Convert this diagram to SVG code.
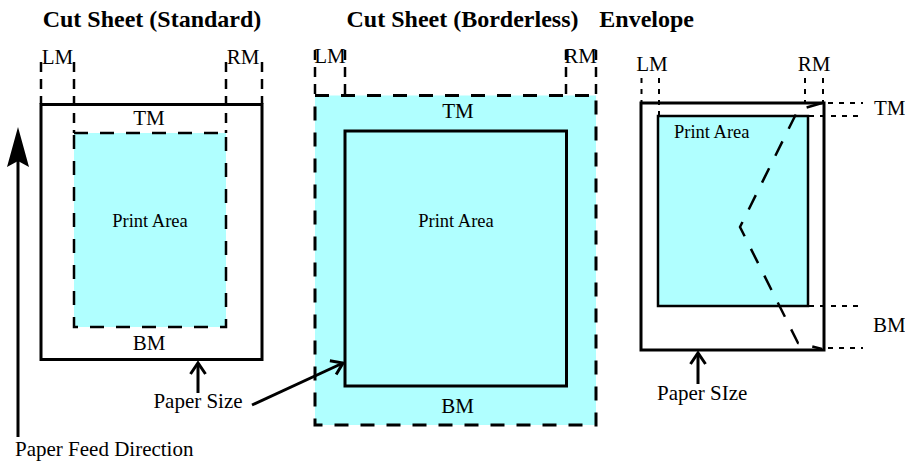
<svg xmlns="http://www.w3.org/2000/svg" width="905" height="462" viewBox="0 0 905 462">
<defs>
<style>
text{font-family:'Liberation Serif','Times New Roman','DejaVu Serif',serif;fill:#000}
.title{font-size:24px;font-weight:bold;text-anchor:middle}
.lbl{font-size:21px}
.mid{text-anchor:middle}
.pa{font-size:18.5px}
.solid{fill:none;stroke:#000;stroke-width:3}
.guide{fill:none;stroke:#000;stroke-width:2.5;stroke-dasharray:10 7}
.dot{fill:none;stroke:#000;stroke-width:2;stroke-dasharray:5 6}
.cyan{fill:#b0ffff}
.conn{fill:none;stroke:#000;stroke-width:3}
</style>
<marker id="open" markerUnits="userSpaceOnUse" viewBox="-14 -10 16 20" markerWidth="16" markerHeight="20" refX="0" refY="0" orient="auto" overflow="visible">
<path d="M-11,-7.5 L0,0 L-11,7.5" fill="none" stroke="#000" stroke-width="3"/>
</marker>
</defs>

<g id="standard">
<text class="title" x="152" y="27">Cut Sheet (Standard)</text>
<text class="lbl mid" x="57.5" y="64">LM</text>
<text class="lbl mid" x="243" y="64">RM</text>
<line class="guide" x1="41" y1="62" x2="41" y2="104"/>
<line class="guide" x1="74" y1="62" x2="74" y2="133"/>
<line class="guide" x1="226" y1="62" x2="226" y2="133"/>
<line class="guide" x1="262" y1="62" x2="262" y2="104"/>
<rect class="solid" x="41" y="104.5" width="221" height="255"/>
<rect class="cyan" x="74" y="133" width="152" height="194" stroke="#000" stroke-width="2.5" stroke-dasharray="14 12"/>
<text class="lbl mid" x="149" y="125">TM</text>
<text class="pa mid" x="150" y="226.5">Print Area</text>
<text class="lbl mid" x="149" y="350">BM</text>
<text class="lbl mid" x="198" y="408">Paper Size</text>
</g>

<g id="borderless">
<text class="title" x="462.5" y="27">Cut Sheet (Borderless)</text>
<text class="lbl mid" x="330" y="63">LM</text>
<text class="lbl mid" x="580.5" y="63">RM</text>
<line class="guide" x1="315" y1="50" x2="315" y2="95"/>
<line class="guide" x1="345" y1="50" x2="345" y2="131"/>
<line class="guide" x1="566" y1="50" x2="566" y2="131"/>
<line class="guide" x1="596" y1="50" x2="596" y2="95"/>
<rect class="cyan" x="315" y="95.5" width="281" height="329.5" stroke="#000" stroke-width="3" stroke-dasharray="14 12"/>
<rect class="solid" x="345" y="131" width="221.5" height="255"/>
<text class="lbl mid" x="458" y="118">TM</text>
<text class="pa mid" x="456" y="226.5">Print Area</text>
<text class="lbl mid" x="457.5" y="413">BM</text>
</g>

<g id="envelope">
<text class="title" x="646.7" y="27">Envelope</text>
<text class="lbl mid" x="652" y="71">LM</text>
<text class="lbl mid" x="814" y="71">RM</text>
<line class="dot" x1="641.5" y1="78" x2="641.5" y2="103"/>
<line class="dot" x1="659" y1="78" x2="659" y2="116"/>
<line class="dot" x1="805" y1="78" x2="805" y2="103"/>
<line class="dot" x1="823" y1="78" x2="823" y2="103"/>
<rect class="solid" x="641" y="103" width="183" height="247"/>
<rect class="cyan" x="658" y="116" width="150" height="190" stroke="#000" stroke-width="2.5"/>
<line class="dot" x1="828" y1="103" x2="863" y2="103"/>
<line class="dot" x1="809" y1="116" x2="863" y2="116"/>
<line class="dot" x1="809" y1="306" x2="863" y2="306"/>
<line class="dot" x1="828" y1="348" x2="863" y2="348"/>
<path d="M822,103 L798,110 L740,227 L798,343 L822,349" fill="none" stroke="#000" stroke-width="2.5" stroke-dasharray="16 14"/>
<text class="pa" x="674" y="138">Print Area</text>
<text class="lbl" x="874" y="115">TM</text>
<text class="lbl" x="873" y="332">BM</text>
<text class="lbl" x="657" y="400">Paper SIze</text>
</g>

<g id="feed-direction">
<text class="lbl" x="15" y="456">Paper Feed Direction</text>
</g>

<g id="connectors">
<line class="conn" x1="18" y1="437" x2="18" y2="160"/>
<polygon points="18,127 7,167 18,161 29,167" fill="#000"/>
<line class="conn" x1="198" y1="393" x2="198" y2="363" marker-end="url(#open)"/>
<line class="conn" x1="252" y1="405" x2="343" y2="363" marker-end="url(#open)"/>
<line class="conn" x1="698" y1="384" x2="698" y2="353" marker-end="url(#open)"/>
</g>
</svg>
